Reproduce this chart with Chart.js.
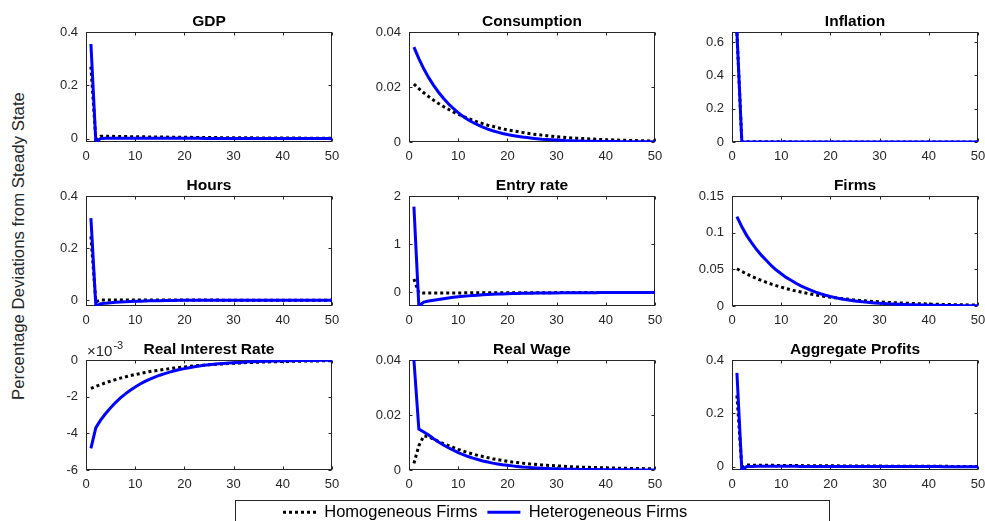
<!DOCTYPE html>
<html><head><meta charset="utf-8">
<script src="https://cdn.jsdelivr.net/npm/chart.js@4.4.1/dist/chart.umd.min.js"></script>
<style>
html,body{margin:0;padding:0;background:#fff}
body{width:985px;height:521px;position:relative;overflow:hidden;font-family:"Liberation Sans",Arial,sans-serif}
canvas{position:absolute}
#ylab{position:absolute;left:18.5px;top:246px;transform:translate(-50%,-50%) rotate(-90deg);white-space:nowrap;font-size:16.8px;line-height:1;color:#262626}
</style></head><body>
<div id="ylab">Percentage Deviations from Steady State</div>
<script>
// ---------- data ----------
const periods = [1,2,3,4,5,6,7,8,9,10,11,12,13,14,15,16,17,18,19,20,21,22,23,24,25,26,27,28,29,30,31,32,33,34,35,36,37,38,39,40,41,42,43,44,45,46,47,48,49,50];
const seriesNames = ['Homogeneous Firms', 'Heterogeneous Firms'];
const xTicks = [0,10,20,30,40,50];

const gdpHom = [0.27,-0.002,0.0098,0.0095,0.0092,0.0089,0.0086,0.0083,0.0080,0.0078,0.0075,0.0073,0.0071,0.0068,0.0066,0.0064,0.0062,0.0060,0.0058,0.0056,0.0054,0.0052,0.0051,0.0049,0.0047,0.0046,0.0044,0.0043,0.0042,0.0040,0.0039,0.0038,0.0036,0.0035,0.0034,0.0033,0.0032,0.0031,0.0030,0.0029,0.0028,0.0027,0.0026,0.0025,0.0024,0.0024,0.0023,0.0022,0.0021,0.0021];
const gdpHet = [0.355,-0.011,0.0015,0.0020,0.0022,0.0023,0.0023,0.0023,0.0023,0.0022,0.0022,0.0021,0.0021,0.0020,0.0020,0.0019,0.0019,0.0018,0.0018,0.0017,0.0017,0.0016,0.0016,0.0015,0.0015,0.0014,0.0014,0.0013,0.0013,0.0013,0.0012,0.0012,0.0011,0.0011,0.0011,0.0010,0.0010,0.0010,0.0009,0.0009,0.0009,0.0008,0.0008,0.0008,0.0008,0.0007,0.0007,0.0007,0.0007,0.0006];
const gdpTicks = [0,0.2,0.4];

const consHom = [0.0211,0.0194,0.0179,0.0165,0.0152,0.0140,0.0129,0.0119,0.0109,0.0101,0.0093,0.0085,0.0079,0.0072,0.0067,0.0061,0.0057,0.0052,0.0048,0.0044,0.0041,0.0038,0.0035,0.0032,0.0029,0.0027,0.0025,0.0023,0.0021,0.0019,0.0018,0.0016,0.0015,0.0014,0.0013,0.0012,0.0011,0.0010,0.0009,0.0008,0.00078,0.00072,0.00066,0.00061,0.00056,0.00052,0.00048,0.00044,0.00040,0.00037];
const consHet = [0.0345,0.0303,0.0266,0.0234,0.0206,0.0181,0.0159,0.0139,0.0122,0.0107,0.0093,0.0081,0.0071,0.0062,0.0054,0.0047,0.0041,0.0036,0.0031,0.0027,0.0024,0.0021,0.0018,0.0016,0.0014,0.0012,0.0010,0.0009,0.0008,0.0007,0.0006,0.0005,0.00045,0.0004,0.00035,0.0003,0.00027,0.00024,0.00021,0.00018,0.00016,0.00014,0.00012,0.00011,0.0001,0.00009,0.00008,0.00007,0.00006,0.00005];
const consTicks = [0,0.02,0.04];

const inflHom = [0.655,0.001,0.0015,0.0014,0.0013,0.0012,0.0011,0.0010,0.0009,0.0009,0.0008,0.0008,0.0007,0.0007,0.0006,0.0006,0.0005,0.0005,0.0005,0.0004,0.0004,0.0004,0.0003,0.0003,0.0003,0.0003,0.0003,0.0002,0.0002,0.0002,0.0002,0.0002,0.0002,0.0001,0.0001,0.0001,0.0001,0.0001,0.0001,0.0001,0.0001,0.0001,0.0001,0.0001,0.0001,0.0001,0,0,0,0];
const inflHet = [0.66,0.0,0.0004,0.0004,0.0004,0.0004,0.0003,0.0003,0.0003,0.0003,0.0003,0.0002,0.0002,0.0002,0.0002,0.0002,0.0002,0.0002,0.0001,0.0001,0.0001,0.0001,0.0001,0.0001,0.0001,0.0001,0.0001,0.0001,0.0001,0.0001,0,0,0,0,0,0,0,0,0,0,0,0,0,0,0,0,0,0,0,0];
const inflTicks = [0,0.2,0.4,0.6];

const hoursHom = [0.245,-0.006,0.0012,0.0014,0.0014,0.0014,0.0013,0.0013,0.0012,0.0012,0.0011,0.0011,0.0010,0.0010,0.0009,0.0009,0.0009,0.0008,0.0008,0.0008,0.0007,0.0007,0.0007,0.0006,0.0006,0.0006,0.0006,0.0005,0.0005,0.0005,0.0005,0.0004,0.0004,0.0004,0.0004,0.0004,0.0003,0.0003,0.0003,0.0003,0.0003,0.0003,0.0003,0.0002,0.0002,0.0002,0.0002,0.0002,0.0002,0.0002];
const hoursHet = [0.315,-0.022,-0.013,-0.011,-0.0095,-0.008,-0.0068,-0.0058,-0.0049,-0.0041,-0.0034,-0.0028,-0.0023,-0.0018,-0.0014,-0.0011,-0.0008,-0.0005,-0.0003,-0.0001,0.0000,0.0001,0.0002,0.0002,0.0003,0.0003,0.0003,0.0003,0.0003,0.0003,0.0003,0.0003,0.0003,0.0003,0.0003,0.0003,0.0003,0.0003,0.0002,0.0002,0.0002,0.0002,0.0002,0.0002,0.0002,0.0002,0.0002,0.0002,0.0002,0.0002];
const hoursTicks = [0,0.2,0.4];

const entryHom = [0.28,-0.005,-0.012,-0.0115,-0.011,-0.0105,-0.010,-0.0095,-0.009,-0.0085,-0.008,-0.0076,-0.0072,-0.0068,-0.0064,-0.006,-0.0057,-0.0054,-0.0051,-0.0048,-0.0045,-0.0043,-0.004,-0.0038,-0.0036,-0.0034,-0.0032,-0.003,-0.0028,-0.0027,-0.0025,-0.0024,-0.0022,-0.0021,-0.002,-0.0019,-0.0018,-0.0017,-0.0016,-0.0015,-0.0014,-0.0013,-0.0012,-0.0012,-0.0011,-0.001,-0.001,-0.0009,-0.0009,-0.0008];
const entryHet = [1.78,-0.28,-0.20,-0.175,-0.16,-0.145,-0.13,-0.115,-0.10,-0.09,-0.08,-0.07,-0.062,-0.055,-0.048,-0.042,-0.037,-0.033,-0.029,-0.026,-0.023,-0.02,-0.018,-0.016,-0.014,-0.012,-0.011,-0.01,-0.009,-0.008,-0.007,-0.006,-0.0055,-0.005,-0.0045,-0.004,-0.0035,-0.003,-0.0027,-0.0024,-0.0021,-0.0019,-0.0017,-0.0015,-0.0013,-0.0012,-0.0011,-0.001,-0.0009,-0.0008];
const entryTicks = [0,1,2];

const firmsHom = [0.0508,0.0471,0.0437,0.0405,0.0375,0.0348,0.0322,0.0299,0.0277,0.0257,0.0238,0.0221,0.0205,0.0190,0.0176,0.0163,0.0151,0.0140,0.0130,0.0120,0.0111,0.0103,0.0096,0.0089,0.0082,0.0076,0.0071,0.0066,0.0061,0.0056,0.0052,0.0048,0.0045,0.0042,0.0039,0.0036,0.0033,0.0031,0.0029,0.0027,0.0025,0.0023,0.0021,0.0020,0.0018,0.0017,0.0016,0.0015,0.0014,0.0013];
const firmsHet = [0.122,0.108,0.096,0.086,0.077,0.069,0.062,0.055,0.049,0.044,0.039,0.035,0.031,0.0275,0.0245,0.0216,0.0190,0.0167,0.0147,0.0129,0.0114,0.0100,0.0088,0.0078,0.0069,0.0061,0.0054,0.0048,0.0042,0.0037,0.0033,0.0029,0.0026,0.0023,0.0020,0.0018,0.0016,0.0014,0.0012,0.0011,0.0010,0.0009,0.0008,0.0007,0.0006,0.00055,0.0005,0.00045,0.0004,0.00035];
const firmsTicks = [0,0.05,0.1,0.15];

const rirHom = [-1.55e-3,-1.44e-3,-1.34e-3,-1.24e-3,-1.15e-3,-1.07e-3,-0.99e-3,-0.92e-3,-0.85e-3,-0.79e-3,-0.74e-3,-0.68e-3,-0.63e-3,-0.59e-3,-0.55e-3,-0.51e-3,-0.47e-3,-0.44e-3,-0.41e-3,-0.38e-3,-0.35e-3,-0.32e-3,-0.30e-3,-0.28e-3,-0.26e-3,-0.24e-3,-0.22e-3,-0.21e-3,-0.19e-3,-0.18e-3,-0.17e-3,-0.15e-3,-0.14e-3,-0.13e-3,-0.12e-3,-0.11e-3,-0.105e-3,-0.097e-3,-0.09e-3,-0.083e-3,-0.077e-3,-0.072e-3,-0.067e-3,-0.062e-3,-0.057e-3,-0.053e-3,-0.049e-3,-0.046e-3,-0.043e-3,-0.04e-3];
const rirHet = [-4.82e-3,-3.69e-3,-3.27e-3,-2.92e-3,-2.60e-3,-2.32e-3,-2.07e-3,-1.85e-3,-1.65e-3,-1.47e-3,-1.31e-3,-1.17e-3,-1.04e-3,-0.93e-3,-0.83e-3,-0.74e-3,-0.66e-3,-0.59e-3,-0.52e-3,-0.47e-3,-0.42e-3,-0.37e-3,-0.33e-3,-0.29e-3,-0.26e-3,-0.23e-3,-0.21e-3,-0.19e-3,-0.17e-3,-0.15e-3,-0.13e-3,-0.12e-3,-0.10e-3,-0.09e-3,-0.08e-3,-0.07e-3,-0.065e-3,-0.058e-3,-0.052e-3,-0.046e-3,-0.041e-3,-0.037e-3,-0.033e-3,-0.029e-3,-0.026e-3,-0.023e-3,-0.021e-3,-0.019e-3,-0.017e-3,-0.015e-3];
const rirTicks = [-0.006,-0.004,-0.002,0];

const wageHom = [0.0024,0.0088,0.0124,0.0121,0.0112,0.0104,0.0096,0.0089,0.0082,0.0075,0.0069,0.0063,0.0058,0.0053,0.0049,0.0045,0.0041,0.0038,0.0035,0.0032,0.0029,0.0027,0.0025,0.0023,0.0021,0.0020,0.0018,0.0017,0.0016,0.0015,0.0014,0.0013,0.0012,0.0011,0.00105,0.0010,0.00095,0.0009,0.00085,0.0008,0.00075,0.0007,0.00066,0.00062,0.00058,0.00055,0.00052,0.00049,0.00046,0.00043];
const wageHet = [0.0400,0.0149,0.0138,0.0127,0.0114,0.0102,0.0091,0.0081,0.0072,0.0063,0.0056,0.0049,0.0043,0.0038,0.0033,0.0029,0.0025,0.0022,0.0019,0.0017,0.0015,0.0013,0.0011,0.00097,0.00084,0.00073,0.00064,0.00055,0.00048,0.00042,0.00036,0.00031,0.00027,0.00024,0.00021,0.00018,0.00016,0.00014,0.00012,0.0001,0.00009,0.00008,0.00007,0.00006,0.00005,0.000045,0.00004,0.000035,0.00003,0.000025];
const wageTicks = [0,0.02,0.04];

const profHom = [0.267,-0.003,0.0065,0.0063,0.0061,0.0059,0.0057,0.0055,0.0053,0.0051,0.0050,0.0048,0.0046,0.0045,0.0043,0.0042,0.0040,0.0039,0.0038,0.0036,0.0035,0.0034,0.0033,0.0032,0.0031,0.0030,0.0029,0.0028,0.0027,0.0026,0.0025,0.0024,0.0023,0.0023,0.0022,0.0021,0.0020,0.0020,0.0019,0.0018,0.0018,0.0017,0.0016,0.0016,0.0015,0.0015,0.0014,0.0014,0.0013,0.0013];
const profHet = [0.352,-0.012,0.0010,0.0015,0.0017,0.0018,0.0018,0.0018,0.0017,0.0017,0.0017,0.0016,0.0016,0.0015,0.0015,0.0015,0.0014,0.0014,0.0013,0.0013,0.0013,0.0012,0.0012,0.0012,0.0011,0.0011,0.0011,0.0010,0.0010,0.0010,0.0009,0.0009,0.0009,0.0009,0.0008,0.0008,0.0008,0.0008,0.0007,0.0007,0.0007,0.0007,0.0006,0.0006,0.0006,0.0006,0.0006,0.0005,0.0005,0.0005];
const profTicks = [0,0.2,0.4];

// ---------- panel set-up (positions kept separate from data) ----------
const panels = [
  {title:'GDP',               hom:gdpHom,   het:gdpHet,   ticks:gdpTicks,   min:-0.012, max:0.4,  box:[86,32,332,142]},
  {title:'Consumption',       hom:consHom,  het:consHet,  ticks:consTicks,  min:0,      max:0.04, box:[409,32,655,142]},
  {title:'Inflation',         hom:inflHom,  het:inflHet,  ticks:inflTicks,  min:0,      max:0.66, box:[732,32,978,142]},
  {title:'Hours',             hom:hoursHom, het:hoursHet, ticks:hoursTicks, min:-0.022, max:0.4,  box:[86,196,332,306]},
  {title:'Entry rate',        hom:entryHom, het:entryHet, ticks:entryTicks, min:-0.28,  max:2,    box:[409,196,655,306]},
  {title:'Firms',             hom:firmsHom, het:firmsHet, ticks:firmsTicks, min:0,      max:0.15, box:[732,196,978,306]},
  {title:'Real Interest Rate',hom:rirHom,   het:rirHet,   ticks:rirTicks,   min:-0.006, max:0,    box:[86,360,332,470], scale:1000, exponent:'-3'},
  {title:'Real Wage',         hom:wageHom,  het:wageHet,  ticks:wageTicks,  min:0,      max:0.04, box:[409,360,655,470]},
  {title:'Aggregate Profits', hom:profHom,  het:profHet,  ticks:profTicks,  min:-0.012, max:0.4,  box:[732,360,978,470]}
];

const FONT = "'Liberation Sans', Arial, Helvetica, sans-serif";
const AXIS_COLOR = '#262626';
const PAD_L = 62, PAD_T = 32, PAD_R = 16, PAD_B = 30;

const framePlugin = {
  id: 'matlabFrame',
  beforeDatasetsDraw(chart, args, opts) {
    const {ctx, chartArea: a, scales: {x, y}} = chart;
    ctx.save();
    ctx.strokeStyle = AXIS_COLOR;
    ctx.lineWidth = 1;
    const L = Math.round(a.left) + 0.5, R = Math.round(a.right) - 0.5;
    const T = Math.round(a.top) + 0.5, B = Math.round(a.bottom) - 0.5;
    ctx.strokeRect(L, T, R - L, B - T);
    ctx.beginPath();
    x.ticks.forEach(t => {
      const px = Math.round(x.getPixelForValue(t.value)) + 0.5;
      ctx.moveTo(px, B); ctx.lineTo(px, B - 3);
      ctx.moveTo(px, T); ctx.lineTo(px, T + 3);
    });
    y.ticks.forEach(t => {
      const py = Math.round(y.getPixelForValue(t.value)) + 0.5;
      ctx.moveTo(L, py); ctx.lineTo(L + 3, py);
      ctx.moveTo(R, py); ctx.lineTo(R - 3, py);
    });
    ctx.stroke();
    ctx.restore();
  },
  afterDraw(chart, args, opts) {
    const {ctx, chartArea: a} = chart;
    ctx.save();
    ctx.fillStyle = '#000';
    ctx.font = 'bold 15.5px ' + FONT;
    ctx.textAlign = 'center';
    ctx.textBaseline = 'alphabetic';
    ctx.fillText(opts.title, (a.left + a.right) / 2, a.top - 6);
    if (opts.exponent) {
      ctx.fillStyle = AXIS_COLOR;
      ctx.textAlign = 'left';
      ctx.font = '15px ' + FONT;
      const base = '\u00d710';
      ctx.fillText(base, a.left + 1, a.top - 4);
      const w = ctx.measureText(base).width;
      ctx.font = '11px ' + FONT;
      ctx.fillText(opts.exponent, a.left + 2 + w, a.top - 11);
    }
    ctx.restore();
  }
};

function fmt(v, s) {
  const r = Math.round(v * (s || 1) * 1e6) / 1e6;
  return String(r);
}

panels.forEach(p => {
  const [L, T, R, B] = p.box;
  const cv = document.createElement('canvas');
  const w = (R - L) + PAD_L + PAD_R, h = (B - T) + PAD_T + PAD_B;
  cv.width = w; cv.height = h;
  cv.style.left = (L - PAD_L) + 'px';
  cv.style.top = (T - PAD_T) + 'px';
  cv.style.width = w + 'px'; cv.style.height = h + 'px';
  document.body.appendChild(cv);
  new Chart(cv, {
    type: 'line',
    data: {
      labels: periods,
      datasets: [
        {label: seriesNames[0], data: p.hom, borderColor: '#000000', borderWidth: 3, borderDash: [3, 3], borderCapStyle: 'butt', pointRadius: 0, tension: 0, order: 2},
        {label: seriesNames[1], data: p.het, borderColor: '#0000ff', borderWidth: 3, pointRadius: 0, tension: 0, order: 1}
      ]
    },
    options: {
      responsive: false, animation: false, devicePixelRatio: 1,
      layout: {padding: {left: 0, top: PAD_T, right: PAD_R, bottom: 0}},
      plugins: {
        legend: {display: false}, title: {display: false}, tooltip: {enabled: false},
        matlabFrame: {title: p.title, exponent: p.exponent}
      },
      scales: {
        x: {
          type: 'linear', min: 0, max: 50,
          afterFit(s) { s.height = PAD_B; },
          afterBuildTicks(s) { s.ticks = xTicks.map(v => ({value: v})); },
          grid: {display: false, drawTicks: false}, border: {display: false},
          ticks: {font: {family: FONT, size: 13}, color: AXIS_COLOR, padding: 7, maxRotation: 0, autoSkip: false, callback: v => fmt(v)}
        },
        y: {
          type: 'linear', min: p.min, max: p.max,
          afterFit(s) { s.width = PAD_L; },
          afterBuildTicks(s) { s.ticks = p.ticks.map(v => ({value: v})); },
          grid: {display: false, drawTicks: false}, border: {display: false},
          ticks: {font: {family: FONT, size: 13}, color: AXIS_COLOR, padding: 8, autoSkip: false, callback: v => fmt(v, p.scale)}
        }
      }
    },
    plugins: [framePlugin]
  });
});

// ---------- legend ----------
const legendBox = {
  id: 'legendBox',
  beforeDraw(chart) {
    const {ctx, width, height} = chart;
    ctx.save();
    ctx.strokeStyle = AXIS_COLOR;
    ctx.lineWidth = 1;
    ctx.strokeRect(0.5, 6.5, width - 1, height);
    ctx.restore();
  }
};
(function () {
  const cv = document.createElement('canvas');
  const w = 595, h = 60;
  cv.width = w; cv.height = h;
  cv.style.left = '235px'; cv.style.top = '494px';
  cv.style.width = w + 'px'; cv.style.height = h + 'px';
  document.body.appendChild(cv);
  new Chart(cv, {
    type: 'line',
    data: {
      labels: [],
      datasets: [
        {label: seriesNames[0], data: [], borderColor: '#000000', borderWidth: 3, borderDash: [3, 3], pointRadius: 0},
        {label: seriesNames[1], data: [], borderColor: '#0000ff', borderWidth: 3, pointRadius: 0}
      ]
    },
    options: {
      responsive: false, animation: false, devicePixelRatio: 1,
      layout: {padding: {left: 38, top: 0, right: 0, bottom: 0}},
      scales: {x: {display: false}, y: {display: false}},
      plugins: {
        tooltip: {enabled: false},
        legend: {
          display: true, position: 'top', align: 'start',
          labels: {
            usePointStyle: true, pointStyle: 'line', pointStyleWidth: 33, padding: 10, color: '#000',
            font: {family: FONT, size: 16.5},
            generateLabels(chart) {
              const items = Chart.defaults.plugins.legend.labels.generateLabels(chart);
              items.forEach((it, i) => {
                const ds = chart.data.datasets[i];
                it.lineDash = ds.borderDash || [];
                it.strokeStyle = ds.borderColor;
                it.fillStyle = ds.borderColor;
                it.lineWidth = ds.borderWidth;
                it.lineCap = 'butt';
              });
              return items;
            }
          }
        }
      }
    },
    plugins: [legendBox]
  });
})();
</script>
</body></html>
